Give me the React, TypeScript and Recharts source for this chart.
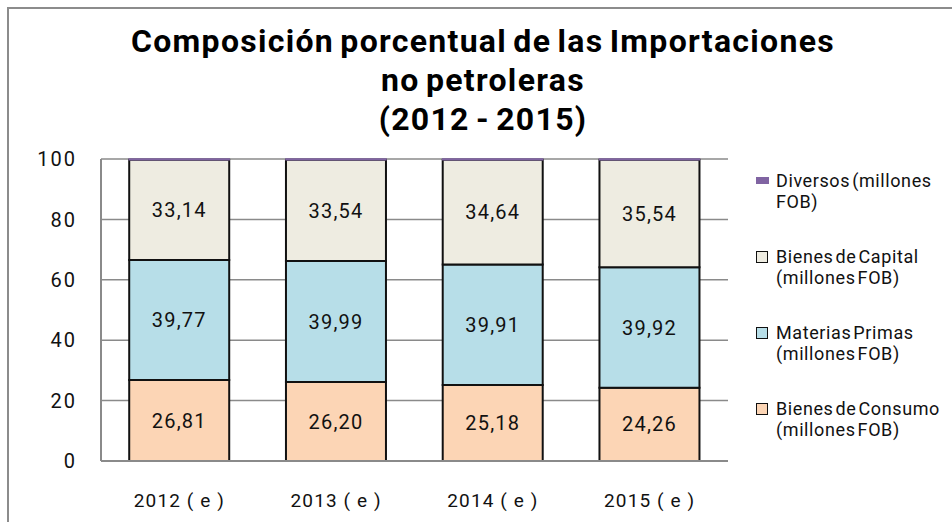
import React from 'react';
import { BarChart, Bar, XAxis, YAxis, CartesianGrid, LabelList } from 'recharts';

const years = ['2012 ( e )', '2013 ( e )', '2014 ( e )', '2015 ( e )'];
const bienesConsumo = [26.81, 26.2, 25.18, 24.26];
const materiasPrimas = [39.77, 39.99, 39.91, 39.92];
const bienesCapital = [33.14, 33.54, 34.64, 35.54];
const diversos = [0.28, 0.27, 0.27, 0.28];
const yTicks = [0, 20, 40, 60, 80, 100];

// legend order (top to bottom) as in the original chart
const legendItems = [
  { name: 'Diversos (millones', name2: 'FOB)', color: '#8064A2', boxed: false },
  { name: 'Bienes de Capital', name2: '(millones FOB)', color: '#EEECE1', boxed: true },
  { name: 'Materias Primas', name2: '(millones FOB)', color: '#B7DEE8', boxed: true },
  { name: 'Bienes de Consumo', name2: '(millones FOB)', color: '#FCD5B5', boxed: true },
];

const data = years.map((year, i) => ({
  year,
  consumo: bienesConsumo[i],
  materias: materiasPrimas[i],
  capital: bienesCapital[i],
  diversos: diversos[i],
}));

const fmt = (v: any) => Number(v).toFixed(2).replace('.', ',');

const FONT = 'Roboto, "Open Sans", sans-serif';

const ChartLegend = () => (
  <div
    style={{
      position: 'absolute',
      left: 752,
      top: 170,
      width: 200,
      fontFamily: FONT,
      fontSize: 18,
      color: '#111',
      letterSpacing: 0.6,
      wordSpacing: -3,
    }}
  >
    {legendItems.map((item, i) => (
      <div key={i} style={{ position: 'relative', height: 76, paddingLeft: 24, lineHeight: '21px', whiteSpace: 'nowrap' }}>
        <span
          style={{
            position: 'absolute',
            left: 4,
            top: item.boxed ? 5 : 7,
            width: item.boxed ? 10 : 13,
            height: item.boxed ? 10 : 7,
            background: item.color,
            border: item.boxed ? '1.5px solid #111' : 'none',
          }}
        />
        <div>{item.name}</div>
        <div>{item.name2}</div>
      </div>
    ))}
  </div>
);

const labelStyle = { fontSize: 20, fill: '#111', fontFamily: FONT, letterSpacing: 1.2 };

const App: React.FC = () => {
  return (
    <div style={{ position: 'fixed', left: 0, top: 0, width: 952, height: 522, overflow: 'hidden', background: '#fff' }}>
      <div style={{ position: 'absolute', left: 7, top: 7, width: 980, height: 560, border: '2px solid #8c8c8c' }} />
      <div
        style={{
          position: 'absolute',
          left: 0,
          top: 22,
          width: 966,
          textAlign: 'center',
          fontFamily: FONT,
          fontWeight: 'bold',
          fontSize: 32,
          letterSpacing: 1.3,
          wordSpacing: -3,
          lineHeight: '39px',
          color: '#000',
        }}
      >
        Composición porcentual de las Importaciones
        <br />
        no petroleras
        <br />
        (2012 - 2015)
      </div>
      <div style={{ position: 'absolute', left: 0, top: 0 }}>
        <BarChart
          width={952}
          height={522}
          data={data}
          margin={{ top: 159, right: 224, bottom: 0, left: 0 }}
          barCategoryGap="18%"
        >
          <CartesianGrid vertical={false} stroke="#8a8a8a" strokeWidth={1.5} />
          <XAxis
            dataKey="year"
            height={61}
            tickLine={false}
            tickMargin={27}
            axisLine={{ stroke: '#8a8a8a', strokeWidth: 2 }}
            tick={{ fontSize: 19, fill: '#111', fontFamily: FONT, letterSpacing: 1.1 }}
          />
          <YAxis
            width={101}
            domain={[0, 100]}
            ticks={yTicks}
            tickLine={false}
            tickSize={0}
            tickMargin={24}
            axisLine={{ stroke: '#8a8a8a', strokeWidth: 2 }}
            tick={{ fontSize: 20, fill: '#111', fontFamily: FONT, letterSpacing: 2 }}
          />
          <Bar dataKey="consumo" stackId="a" fill="#FCD5B5" stroke="#111" strokeWidth={2} isAnimationActive={false}>
            <LabelList dataKey="consumo" position="center" formatter={fmt} style={labelStyle} />
          </Bar>
          <Bar dataKey="materias" stackId="a" fill="#B7DEE8" stroke="#111" strokeWidth={2} isAnimationActive={false}>
            <LabelList dataKey="materias" position="center" formatter={fmt} style={labelStyle} />
          </Bar>
          <Bar dataKey="capital" stackId="a" fill="#EEECE1" stroke="#111" strokeWidth={2} isAnimationActive={false}>
            <LabelList dataKey="capital" position="center" formatter={fmt} style={labelStyle} />
          </Bar>
          <Bar dataKey="diversos" stackId="a" fill="#8064A2" stroke="#8064A2" strokeWidth={1.5} isAnimationActive={false} />
        </BarChart>
      </div>
      <ChartLegend />
    </div>
  );
};

export default App;
